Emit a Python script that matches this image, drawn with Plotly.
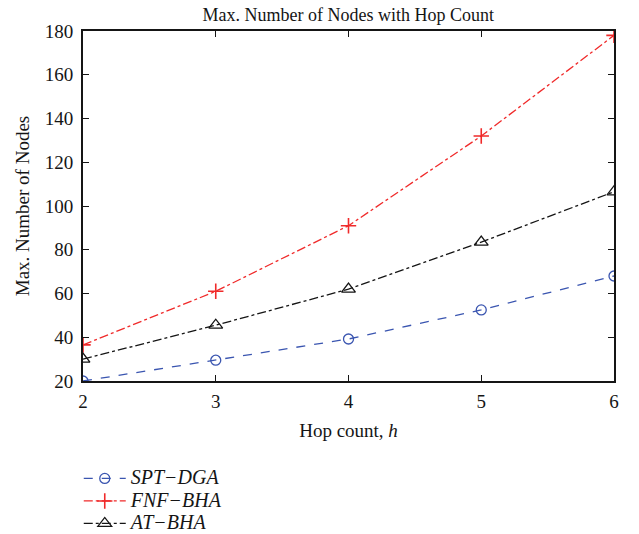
import plotly.graph_objects as go

# Hop count values and maximum node counts per scheme
hops = [2, 3, 4, 5, 6]
spt_dga = [20, 29.5, 39.2, 52.5, 68]
fnf_bha = [36.5, 61, 91, 132, 178]
at_bha = [30, 45.5, 62, 83.5, 106.5]

y_ticks = [20, 40, 60, 80, 100, 120, 140, 160, 180]
series_names = ["SPT\u2212DGA", "FNF\u2212BHA", "AT\u2212BHA"]

SERIF = "Liberation Serif, Times New Roman, serif"
INK = "#151515"


def legend_label(text):
    # larger glyphs than the legend's base font keep the rows compact
    return f'<span style="font-size:20px">{text}</span>'


fig = go.Figure()
fig.add_trace(go.Scatter(
    x=hops, y=spt_dga, name=legend_label(series_names[0]), mode="lines+markers",
    line=dict(color="#3a55b0", width=1.3, dash="dash"),
    marker=dict(symbol="circle-open", size=10, color="#3a55b0", line=dict(width=1.3)),
))
fig.add_trace(go.Scatter(
    x=hops, y=fnf_bha, name=legend_label(series_names[1]), mode="lines+markers",
    line=dict(color="#f02a2a", width=1.3, dash="dashdot"),
    marker=dict(symbol="cross-thin-open", size=11, color="#f02a2a",
                line=dict(width=1.6, color="#f02a2a")),
))
fig.add_trace(go.Scatter(
    x=hops, y=at_bha, name=legend_label(series_names[2]), mode="lines+markers",
    line=dict(color=INK, width=1.3, dash="dashdot"),
    marker=dict(symbol="triangle-up-open", size=12, color=INK, line=dict(width=1.3)),
))

axis_common = dict(
    showline=True, linecolor=INK, linewidth=2, mirror="ticks",
    ticks="inside", ticklen=6, tickcolor=INK, tickwidth=1.2,
    showgrid=False, zeroline=False,
    tickfont=dict(family=SERIF, size=19, color=INK),
)

fig.update_layout(
    width=639, height=534,
    margin=dict(l=83, r=25, t=31, b=153, autoexpand=False),
    paper_bgcolor="white", plot_bgcolor="white",
    title=dict(text="Max. Number of Nodes with Hop Count", x=0.545, xanchor="center",
               y=0.972, yanchor="middle",
               font=dict(family=SERIF, size=18, color=INK)),
    xaxis=dict(range=[2, 6], tickvals=hops, ticklabelstandoff=2, **axis_common,
               title=dict(text="Hop count, <i>h</i>", standoff=13,
                          font=dict(family=SERIF, size=19, color=INK))),
    yaxis=dict(range=[20, 180], tickvals=y_ticks, ticklabelstandoff=4, **axis_common,
               title=dict(text="Max. Number of Nodes", standoff=10,
                          font=dict(family=SERIF, size=19, color=INK))),
    legend=dict(x=-0.008, y=-0.232, xanchor="left", yanchor="top",
                bgcolor="rgba(0,0,0,0)", tracegroupgap=0, itemwidth=42,
                font=dict(family=SERIF, size=15, color=INK, style="italic")),
    showlegend=True,
)

fig.write_html("out.html")
